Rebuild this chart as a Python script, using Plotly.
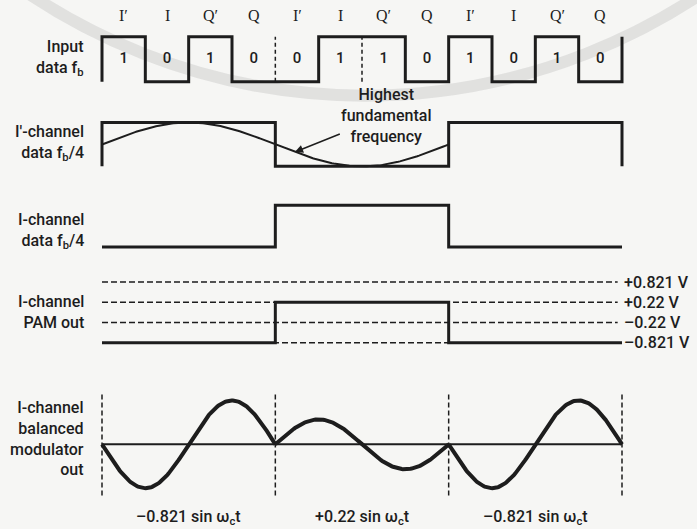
import numpy as np
import plotly.graph_objects as go

# ---- data -------------------------------------------------------------
# serial input stream, grouped in 4-bit symbols (I', I, Q', Q)
bits = [1, 0, 1, 0, 0, 1, 1, 0, 1, 0, 1, 0]
bit_names = ["I′", "I", "Q′", "Q", "I′", "I", "Q′", "Q", "I′", "I", "Q′", "Q"]

# 2-to-4 level converter: (I, I') -> PAM output volts
pam_table = {(0, 0): -0.22, (0, 1): -0.821, (1, 0): 0.22, (1, 1): 0.821}
pam_volts = [-0.821, -0.22, 0.22, 0.821]

row_titles = [
    "Input<br>data f<sub>b</sub>",
    "I′-channel<br>data f<sub>b</sub>/4",
    "I-channel<br>data f<sub>b</sub>/4",
    "I-channel<br>PAM out",
    "I-channel<br>balanced<br>modulator<br>out",
]
arrow_text = "Highest<br>fundamental<br>frequency"

# ---- derived signals --------------------------------------------------
BPS = 4
n_sym = len(bits) // BPS
i_prime = [bits[BPS * k] for k in range(n_sym)]
i_bits = [bits[BPS * k + 1] for k in range(n_sym)]
pam_out = [pam_table[(i, ip)] for i, ip in zip(i_bits, i_prime)]


def vtxt(v):
    return f"{v:+g}".replace("-", "–")


pam_labels = [vtxt(v) + " V" for v in pam_volts]

# ---- page geometry ----------------------------------------------------
W, H = 697, 529
X_START, X_END = 102, 622          # pixel span of the 12 bit slots
ppb = (X_END - X_START) / len(bits)
x_range = [-X_START / ppb, len(bits) + (W - X_END) / ppb]
INK = "#1d1d1d"
FONT = "Roboto"
WEIGHT = 500
TXT = dict(family=FONT, size=16, color=INK, weight=WEIGHT)
SERIF = dict(family="Liberation Serif", size=16, color=INK, weight=WEIGHT)


def px_x(px):
    return px / W


def domain(px_hi, px_lo, v_hi, v_lo, rng):
    """Paper domain so that v_hi sits at pixel row px_hi and v_lo at px_lo."""
    scale = (px_lo - px_hi) / (v_hi - v_lo)
    top = px_hi - (rng[1] - v_hi) * scale
    bot = px_lo + (v_lo - rng[0]) * scale
    return [1 - bot / H, 1 - top / H]


fig = go.Figure()


def line(x, y, axis, width, dash="solid", shape="linear"):
    fig.add_trace(go.Scatter(
        x=x, y=y, xaxis="x", yaxis=axis, mode="lines",
        line=dict(color=INK, width=width, dash=dash, shape=shape),
        hoverinfo="skip", showlegend=False))


# row 1: input bit stream
xs = [0] + list(range(len(bits))) + [len(bits), len(bits)]
ys = [1 - bits[0]] + bits + [bits[-1], 1 - bits[-1]]
line(xs, ys, "y", 3, shape="hv")
for k in range(1, len(bits)):
    if bits[k] == bits[k - 1]:
        line([k, k], [0, 1], "y", 1.5, dash="4px,3px")

# bit values inside the slots, symbol-position names above them
fig.add_trace(go.Scatter(
    x=[k + 0.5 for k in range(len(bits))], y=[0.5] * len(bits),
    xaxis="x", yaxis="y", mode="text", text=[str(b) for b in bits],
    textfont=dict(TXT, size=15), textposition="middle center",
    cliponaxis=False, hoverinfo="skip", showlegend=False))

# row 2: I' channel square wave and its fundamental
lev = [1 if b else -1 for b in i_prime]
xs = [0] + [BPS * k for k in range(n_sym)] + [len(bits), len(bits)]
ys = [-lev[0]] + lev + [lev[-1], -lev[-1]]
line(xs, ys, "y2", 3, shape="hv")
xf = np.linspace(0, 2 * BPS, 200)
line(xf, np.sin(2 * np.pi * xf / (2 * BPS)), "y2", 2)

# row 3: I channel data
xs = [BPS * k for k in range(n_sym)] + [len(bits)]
line(xs, i_bits + [i_bits[-1]], "y3", 3, shape="hv")

# row 4: PAM output on the four-level scale
for lab in pam_labels:
    line([0, len(bits) - 0.1], [lab, lab], "y4", 1.5, dash="6px,3px")
pam_cats = [vtxt(v) + " V" for v in pam_out]
line(xs, pam_cats + [pam_cats[-1]], "y4", 3, shape="hv")

# row 5: balanced modulator output, one carrier cycle per symbol
outer = max(abs(v) for v in pam_volts)
inner = min(abs(v) for v in pam_volts)
for k, v in enumerate(pam_out):
    xc = np.linspace(BPS * k, BPS * (k + 1), 160)
    yc = v * np.sin(2 * np.pi * (xc - BPS * k) / BPS)
    line(xc, yc, "y5" if abs(v) == outer else "y6", 4)
line([0, len(bits)], [0, 0], "y5", 2)
for k in range(n_sym + 1):
    line([BPS * k, BPS * k], [-0.96, 0.94], "y5", 1.5, dash="5px,3px")

# ---- axes -------------------------------------------------------------
hidden = dict(visible=False, showgrid=False, zeroline=False, fixedrange=True)
r1, r2, r3, r4, r5 = [-0.2, 1.2], [-1.3, 1.3], [-0.25, 1.25], [-0.4, 3.4], [-1.0, 1.0]
outer_px, inner_px = 44, 25        # drawn peak heights of outer / inner levels
half5 = r5[1] * outer_px / outer   # half height of the row in pixels
r6 = [-half5 * inner / inner_px, half5 * inner / inner_px]
BASE5 = 445

fig.update_layout(
    width=W, height=H,
    margin=dict(l=0, r=0, t=0, b=0),
    paper_bgcolor="#f6f6f4", plot_bgcolor="rgba(0,0,0,0)",
    font=TXT,
    xaxis=dict(range=x_range, domain=[0, 1], **hidden),
    yaxis=dict(range=r1, domain=domain(36, 81, 1, 0, r1), anchor="x", **hidden),
    yaxis2=dict(range=r2, domain=domain(122, 166, 1, -1, r2), anchor="x", **hidden),
    yaxis3=dict(range=r3, domain=domain(205, 247, 1, 0, r3), anchor="x", **hidden),
    yaxis4=dict(type="category", categoryorder="array", categoryarray=pam_labels,
                range=r4, domain=domain(282, 343, 3, 0, r4),
                anchor="free", position=px_x(623), side="right",
                showgrid=False, zeroline=False, showline=False, ticks="",
                tickfont=TXT, fixedrange=True),
    yaxis5=dict(range=r5, domain=domain(BASE5 - outer_px, BASE5, outer, 0, r5),
                anchor="x", **hidden),
    yaxis6=dict(range=r6, overlaying="y5", anchor="x", **hidden),
)

# watermark ring behind the diagram
fig.add_shape(type="circle", xref="paper", yref="paper",
              x0=(365 - 603) / W, x1=(365 + 603) / W,
              y0=1 - 95 / H, y1=1 + (1206 - 95) / H,
              line=dict(color="rgba(150,150,150,0.22)", width=12), layer="below")

ann = []
row_axes = ["y", "y2", "y3", "y4", "y5"]
row_mid = [0.5, 0, 0.5, pam_labels[1], 0]
row_shift = [1, 1, -5, 10, 6]
for t, ax, ym, sh in zip(row_titles, row_axes, row_mid, row_shift):
    ann.append(dict(x=px_x(86), xref="paper", y=ym, yref=ax, text=t,
                    xanchor="right", yanchor="middle", align="right",
                    yshift=sh, showarrow=False, font=TXT))
for k, nm in enumerate(bit_names):
    ann.append(dict(x=k + 0.5, xref="x", y=1, yref="y", text=nm, yshift=21,
                    showarrow=False, font=SERIF))
xh = 4.45
ann.append(dict(x=xh, xref="x", y=float(np.sin(2 * np.pi * xh / (2 * BPS))), yref="y2",
                text=arrow_text, showarrow=True, ax=92, ay=-37, font=TXT,
                arrowhead=2, arrowsize=1.1, arrowwidth=1.5, arrowcolor=INK))
for k, v in enumerate(pam_out):
    ann.append(dict(x=BPS * k + BPS / 2, xref="x", y=0, yref="y5",
                    text=f"{vtxt(v)} sin ω<sub>c</sub>t", yshift=-73,
                    showarrow=False, font=TXT))
fig.update_layout(annotations=ann)

fig.write_html("out.html")
